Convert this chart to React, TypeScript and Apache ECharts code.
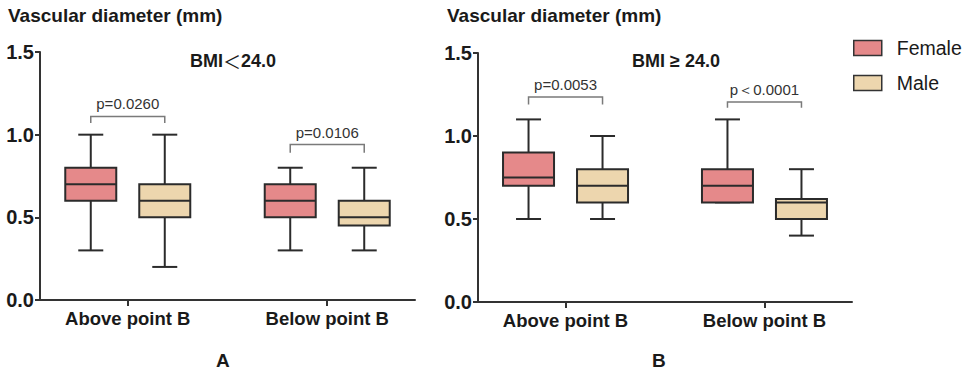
import React, { useEffect, useRef } from 'react';
import * as echarts from 'echarts';

// ---------- data ----------
const categories = ['Above point B', 'Below point B'];
const legendNames = ['Female', 'Male'];
// each row: [min, Q1, median, Q3, max]
const leftFemale = [
  [0.3, 0.6, 0.7, 0.8, 1.0],
  [0.3, 0.5, 0.6, 0.7, 0.8],
];
const leftMale = [
  [0.2, 0.5, 0.6, 0.7, 1.0],
  [0.3, 0.45, 0.5, 0.6, 0.8],
];
const rightFemale = [
  [0.5, 0.7, 0.75, 0.9, 1.1],
  [0.6, 0.6, 0.7, 0.8, 1.1],
];
const rightMale = [
  [0.5, 0.6, 0.7, 0.8, 1.0],
  [0.4, 0.5, 0.6, 0.62, 0.8],
];
const leftPLabels = ['p=0.0260', 'p=0.0106'];
const leftPBar = [1.11, 0.94];
const leftPEnd = [1.07, 0.89];
const rightPLabels = ['p=0.0053', 'p\uFF1C0.0001'];
const rightPBar = [1.235, 1.205];
const rightPEnd = [1.19, 1.17];
const yTickStep = 0.5;
const yMax = 1.5;

// ---------- style ----------
const FONT = '"Liberation Sans", Arial, Helvetica, sans-serif';
const FEMALE_COLOR = '#E5898A';
const MALE_COLOR = '#EDD6AE';
const STROKE = '#2b2b2b';
const PAIR_OFFSET = 37;
const BOX_W = 51;
const CAP_W = 25;

const makeBoxRender = (side: number) => (params: any, api: any) => {
  const cat = api.value(0);
  const cx = api.coord([cat, 0])[0] + side * PAIR_OFFSET;
  const py = (i: number) => api.coord([cat, api.value(i)])[1];
  const yMin = py(1), yQ1 = py(2), yMed = py(3), yQ3 = py(4), yMx = py(5);
  const fill = api.visual('color');
  const ls = { stroke: STROKE, lineWidth: 2 };
  return {
    type: 'group',
    children: [
      { type: 'line', shape: { x1: cx, y1: yQ3, x2: cx, y2: yMx }, style: ls },
      { type: 'line', shape: { x1: cx, y1: yQ1, x2: cx, y2: yMin }, style: ls },
      { type: 'line', shape: { x1: cx - CAP_W / 2, y1: yMx, x2: cx + CAP_W / 2, y2: yMx }, style: ls },
      { type: 'line', shape: { x1: cx - CAP_W / 2, y1: yMin, x2: cx + CAP_W / 2, y2: yMin }, style: ls },
      {
        type: 'rect',
        shape: { x: cx - BOX_W / 2, y: yQ3, width: BOX_W, height: yQ1 - yQ3 },
        style: { fill, stroke: STROKE, lineWidth: 2 },
      },
      { type: 'line', shape: { x1: cx - BOX_W / 2, y1: yMed, x2: cx + BOX_W / 2, y2: yMed }, style: ls },
    ],
  };
};

const makeBracketRender = (labels: string[]) => (params: any, api: any) => {
  const cat = api.value(0);
  const cx = api.coord([cat, 0])[0];
  const yBar = api.coord([cat, api.value(1)])[1];
  const yEnd = api.coord([cat, api.value(2)])[1];
  const xl = cx - PAIR_OFFSET;
  const xr = cx + PAIR_OFFSET;
  return {
    type: 'group',
    children: [
      {
        type: 'polyline',
        shape: { points: [[xl, yEnd], [xl, yBar], [xr, yBar], [xr, yEnd]] },
        style: { stroke: '#7a7a7a', lineWidth: 1.5, fill: 'none' },
      },
      {
        type: 'text',
        x: cx,
        y: yBar - 5,
        style: {
          text: labels[params.dataIndex],
          align: 'center',
          verticalAlign: 'bottom',
          fontSize: 15,
          fontFamily: FONT,
          fill: '#333',
        },
      },
    ],
  };
};

const boxData = (rows: number[][]) => rows.map((r, i) => [i, ...r]);
const bracketData = (bar: number[], end: number[]) => bar.map((b, i) => [i, b, end[i]]);

function makeAxes(idx: number) {
  const xAxis = {
    type: 'value',
    gridIndex: idx,
    min: -0.44,
    max: 1.44,
    splitLine: { show: false },
    axisLine: { show: true, onZero: false, lineStyle: { color: '#333', width: 2 } },
    axisTick: { show: true, customValues: [0, 1], length: 6, lineStyle: { color: '#333', width: 2 } },
    axisLabel: {
      customValues: [0, 1],
      formatter: (v: number) => categories[Math.round(v)] ?? '',
      fontFamily: FONT,
      fontWeight: 'bold',
      fontSize: 18.5,
      color: '#1a1a1a',
      margin: 9,
    },
  };
  const yAxis = {
    type: 'value',
    gridIndex: idx,
    min: 0,
    max: yMax,
    interval: yTickStep,
    splitLine: { show: false },
    axisLine: { show: true, onZero: false, lineStyle: { color: '#333', width: 2 } },
    axisTick: { show: true, length: 5, lineStyle: { color: '#333', width: 2 } },
    axisLabel: {
      formatter: (v: number) => v.toFixed(1),
      fontFamily: FONT,
      fontWeight: 'bold',
      fontSize: 20,
      color: '#1a1a1a',
      margin: 6,
    },
  };
  return { xAxis, yAxis };
}

export default function App() {
  const ref = useRef<HTMLDivElement>(null);
  useEffect(() => {
    if (!ref.current) return;
    const chart = echarts.init(ref.current, undefined, { renderer: 'svg' });
    const a0 = makeAxes(0);
    const a1 = makeAxes(1);
    const titleStyle = { fontFamily: FONT, fontWeight: 'bold', fontSize: 19, fill: '#1a1a1a' };
    const bmiRich = {
      b: { fontFamily: FONT, fontWeight: 'bold', fontSize: 18, fill: '#1a1a1a' },
      n: { fontFamily: '"Noto Sans CJK SC", sans-serif', fontWeight: 'normal', fontSize: 18, fill: '#1a1a1a' },
    };
    chart.setOption({
      animation: false,
      backgroundColor: '#ffffff',
      grid: [
        { left: 40, top: 52, width: 375, height: 248 },
        { left: 478, top: 53, width: 374, height: 249 },
      ],
      xAxis: [a0.xAxis, a1.xAxis],
      yAxis: [a0.yAxis, a1.yAxis],
      legend: {
        data: legendNames,
        orient: 'vertical',
        left: 853,
        top: 38,
        padding: 0,
        itemWidth: 28,
        itemHeight: 15,
        itemGap: 15,
        icon: 'rect',
        itemStyle: { borderColor: '#333', borderWidth: 1.5 },
        textStyle: {
          fontFamily: FONT,
          fontSize: 19.5,
          color: '#1a1a1a',
          lineHeight: 20,
          padding: [0, 0, 0, 10],
        },
      },
      graphic: [
        { type: 'text', left: 8, top: 6, style: { text: 'Vascular diameter (mm)', ...titleStyle } },
        { type: 'text', left: 447, top: 6, style: { text: 'Vascular diameter (mm)', ...titleStyle } },
        {
          type: 'text', left: 190, top: 52,
          style: { text: '{b|BMI}{n|\uFF1C}{b|24.0}', rich: bmiRich },
        },
        {
          type: 'text', left: 632, top: 52,
          style: { text: 'BMI \u2265 24.0', fontFamily: FONT, fontWeight: 'bold', fontSize: 18, fill: '#1a1a1a' },
        },
        { type: 'text', left: 216, top: 351, style: { text: 'A', ...titleStyle } },
        { type: 'text', left: 652, top: 351, style: { text: 'B', ...titleStyle } },
      ],
      series: [
        {
          type: 'custom', name: 'Female', xAxisIndex: 0, yAxisIndex: 0,
          itemStyle: { color: FEMALE_COLOR },
          encode: { x: 0, y: [1, 2, 3, 4, 5] },
          renderItem: makeBoxRender(-1), data: boxData(leftFemale),
        },
        {
          type: 'custom', name: 'Male', xAxisIndex: 0, yAxisIndex: 0,
          itemStyle: { color: MALE_COLOR },
          encode: { x: 0, y: [1, 2, 3, 4, 5] },
          renderItem: makeBoxRender(1), data: boxData(leftMale),
        },
        {
          type: 'custom', name: 'Female', xAxisIndex: 1, yAxisIndex: 1,
          itemStyle: { color: FEMALE_COLOR },
          encode: { x: 0, y: [1, 2, 3, 4, 5] },
          renderItem: makeBoxRender(-1), data: boxData(rightFemale),
        },
        {
          type: 'custom', name: 'Male', xAxisIndex: 1, yAxisIndex: 1,
          itemStyle: { color: MALE_COLOR },
          encode: { x: 0, y: [1, 2, 3, 4, 5] },
          renderItem: makeBoxRender(1), data: boxData(rightMale),
        },
        {
          type: 'custom', name: 'pLeft', xAxisIndex: 0, yAxisIndex: 0,
          encode: { x: 0, y: [1, 2] },
          renderItem: makeBracketRender(leftPLabels), data: bracketData(leftPBar, leftPEnd),
        },
        {
          type: 'custom', name: 'pRight', xAxisIndex: 1, yAxisIndex: 1,
          encode: { x: 0, y: [1, 2] },
          renderItem: makeBracketRender(rightPLabels), data: bracketData(rightPBar, rightPEnd),
        },
      ],
    });
    return () => chart.dispose();
  }, []);
  return (
    <div
      ref={ref}
      style={{ position: 'fixed', left: 0, top: 0, width: 970, height: 374, background: '#fff' }}
    />
  );
}
